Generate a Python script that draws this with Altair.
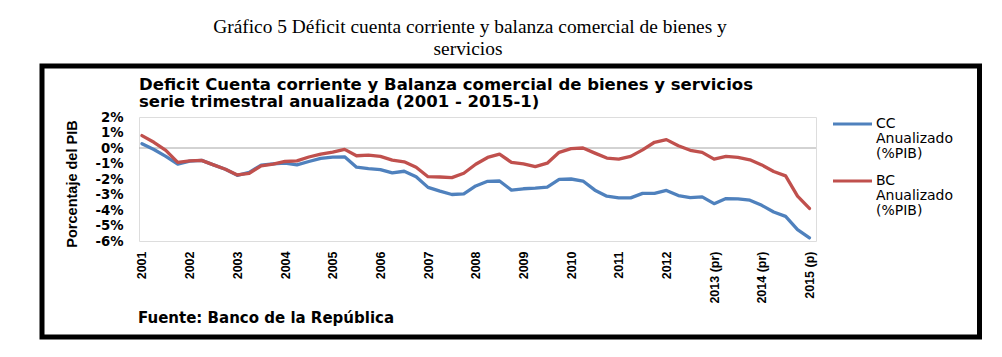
import json
import altair as alt
import pandas as pd

# ---------------- data ----------------
tick_labels = ["2001", "2002", "2003", "2004", "2005", "2006", "2007", "2008",
               "2009", "2010", "2011", "2012", "2013 (pr)", "2014 (pr)", "2015 (p)"]
quarters = [f"{y}-T{q}" for y in range(2001, 2015) for q in range(1, 5)] + ["2015-T1"]

cc = [0.28, -0.10, -0.54, -1.04, -0.85, -0.80, -1.09, -1.37, -1.76, -1.57,
      -1.10, -1.02, -0.98, -1.09, -0.87, -0.67, -0.59, -0.57, -1.24, -1.33,
      -1.39, -1.61, -1.50, -1.85, -2.54, -2.78, -3.00, -2.96, -2.45, -2.15,
      -2.13, -2.72, -2.63, -2.59, -2.52, -2.02, -2.00, -2.13, -2.72, -3.11,
      -3.22, -3.22, -2.93, -2.93, -2.74, -3.07, -3.20, -3.15, -3.59, -3.26,
      -3.28, -3.37, -3.70, -4.13, -4.41, -5.26, -5.80]
bc = [0.80, 0.37, -0.15, -0.93, -0.83, -0.80, -1.09, -1.37, -1.74, -1.63,
      -1.15, -1.04, -0.87, -0.83, -0.58, -0.39, -0.26, -0.09, -0.50, -0.46,
      -0.54, -0.78, -0.89, -1.24, -1.85, -1.87, -1.91, -1.63, -1.05, -0.61,
      -0.39, -0.93, -1.02, -1.20, -0.98, -0.28, -0.04, 0.00, -0.33, -0.65,
      -0.72, -0.54, -0.12, 0.37, 0.54, 0.15, -0.15, -0.28, -0.72, -0.54,
      -0.61, -0.76, -1.09, -1.52, -1.80, -3.10, -3.90]

series = ["CC Anualizado (%PIB)", "BC Anualizado (%PIB)"]
legend_lines = [["CC", "Anualizado", "(%PIB)"], ["BC", "Anualizado", "(%PIB)"]]
series_colors = ["#4F81BD", "#C0504D"]
y_ticks = [2, 1, 0, -1, -2, -3, -4, -5, -6]

fig_title = ["Gráfico 5 Déficit cuenta corriente y balanza comercial de bienes y",
             "servicios"]
chart_title = ["Deficit Cuenta corriente y Balanza comercial de bienes y servicios",
               "serie trimestral anualizada (2001 - 2015-1)"]
y_title = "Porcentaje del PIB"
source_note = "Fuente: Banco de la República"

n = len(quarters)
df = pd.DataFrame({
    "idx": list(range(n)) * 2,
    "trimestre": quarters * 2,
    "serie": [series[0]] * n + [series[1]] * n,
    "valor": cc + bc,
})
zero_df = pd.DataFrame({"valor": [0]})
anchor = pd.DataFrame({"k": [0]})

# ---------------- layout ----------------
W, H = 677, 124
SANS = "DejaVu Sans"
ARIAL = "Liberation Sans"
label_expr = json.dumps(tick_labels) + "[round(datum.value / 4)]"

x_enc = alt.X(
    "idx:Q",
    scale=alt.Scale(domain=[-0.25, 56.55], nice=False, zero=False),
    axis=alt.Axis(values=list(range(0, n, 4)), labelExpr=label_expr, labelAngle=-90,
                  labelFont=ARIAL, labelFontSize=12.5,
                  labelFontWeight="bold", labelColor="black", labelPadding=10,
                  labelFlush=False, labelOverlap=False, ticks=False, domain=False,
                  grid=False, title=""),
)
y_enc = alt.Y(
    "valor:Q",
    scale=alt.Scale(domain=[-6, 2], nice=False, zero=False),
    axis=alt.Axis(values=y_ticks, labelExpr="datum.value + '%'", labelFont=SANS,
                  labelFontSize=13.3, labelFontWeight="bold", labelColor="black",
                  labelPadding=16, labelOverlap=False, ticks=False, domain=False,
                  grid=False, title=""),
)


def txt(s, x, y, size, font=SANS, weight="normal", align="left", angle=0):
    return alt.Chart(anchor).mark_text(
        text=s, font=font, fontSize=size, fontWeight=weight, align=align,
        baseline="middle", angle=angle, color="black"
    ).encode(x=alt.value(x), y=alt.value(y))


outer_box = alt.Chart(anchor).mark_rect(
    filled=False, stroke="black", strokeWidth=5
).encode(x=alt.value(-97), x2=alt.value(840.5), y=alt.value(-51), y2=alt.value(220))

zero_rule = alt.Chart(zero_df).mark_rule(color="#A6A6A6", strokeWidth=1).encode(y=y_enc)

base = alt.Chart(df).encode(x=x_enc, y=y_enc)
cc_line = base.transform_filter(alt.datum.serie == series[0]).mark_line(
    color=series_colors[0], strokeWidth=3.3, strokeCap="round", strokeJoin="round")
bc_line = base.transform_filter(alt.datum.serie == series[1]).mark_line(
    color=series_colors[1], strokeWidth=3.3, strokeCap="round", strokeJoin="round")

layers = [
    outer_box,
    txt(fig_title[0], 331, -90, 19.4, font="Liberation Serif", align="center"),
    txt(fig_title[1], 329, -68, 19.4, font="Liberation Serif", align="center"),
    txt(chart_title[0], 0, -32, 16.5, weight="bold"),
    txt(chart_title[1], 0, -15, 16.5, weight="bold"),
    txt(y_title, -66, 67, 14.5, font=ARIAL, weight="bold", align="center", angle=270),
    txt(source_note, -1, 201, 15, weight="bold"),
    zero_rule,
    cc_line,
    bc_line,
]

leg_y0 = [7, 64]
for k in range(2):
    layers.append(
        alt.Chart(anchor).mark_rule(color=series_colors[k], strokeWidth=3).encode(
            x=alt.value(694), x2=alt.value(733), y=alt.value(leg_y0[k]))
    )
    for j, line in enumerate(legend_lines[k]):
        layers.append(txt(line, 737, leg_y0[k] + 15 * j, 14))

chart = alt.layer(*layers).properties(
    width=W, height=H, autosize="none",
    padding={"left": 139, "top": 117, "right": 186, "bottom": 116},
).configure_view(stroke="black", strokeWidth=4).configure(background="white")

chart.save("out.html", embed_options={"renderer": "svg", "actions": False})
